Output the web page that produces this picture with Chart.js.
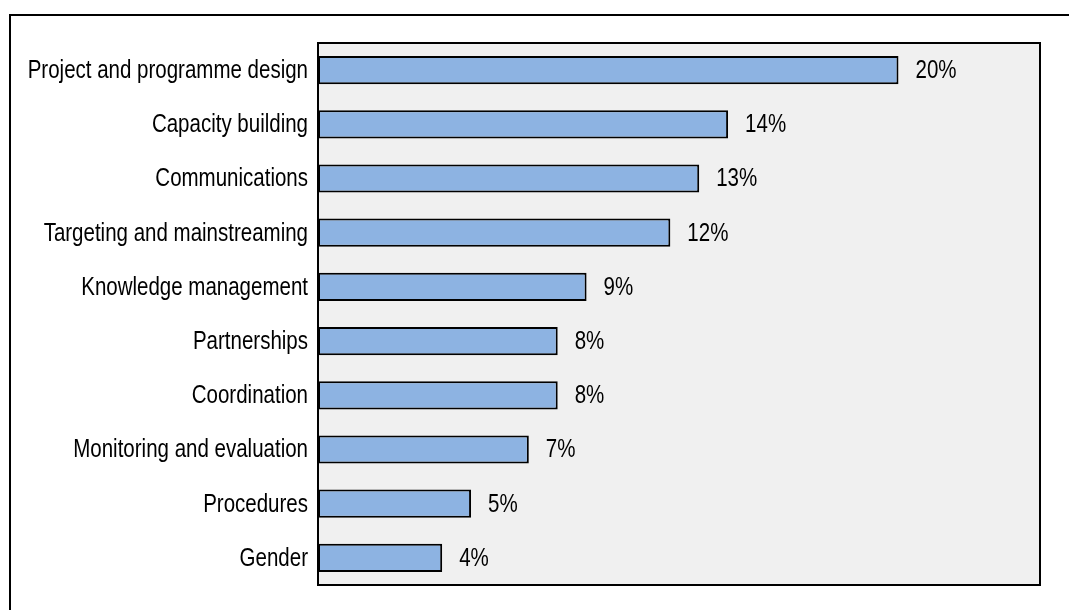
<!DOCTYPE html>
<html lang="en">
<head>
<meta charset="UTF-8">
<title>Share by area</title>
<script src="https://cdn.jsdelivr.net/npm/chart.js"></script>
<style>
  body { margin: 0; background: #fff; }
</style>
</head>
<body>
<canvas id="myChart" width="1069" height="610"></canvas>
<script>
// data
const categories = [
  'Project and programme design',
  'Capacity building',
  'Communications',
  'Targeting and mainstreaming',
  'Knowledge management',
  'Partnerships',
  'Coordination',
  'Monitoring and evaluation',
  'Procedures',
  'Gender'
];
const shares = [20.1, 14.2, 13.2, 12.2, 9.3, 8.3, 8.3, 7.3, 5.3, 4.3];
const shareLabels = ['20%', '14%', '13%', '12%', '9%', '8%', '8%', '7%', '5%', '4%'];
const axisMax = 25;

// no narrow font installed, so squeeze Liberation Sans by hand
const FONT = '25px "Liberation Sans", Arial, sans-serif';
const SQUEEZE = 0.82;

function narrowText(ctx, text, x, y, align) {
  ctx.save();
  ctx.translate(x, y);
  ctx.scale(SQUEEZE, 1);
  ctx.font = FONT;
  ctx.fillStyle = '#000';
  ctx.textAlign = align;
  ctx.textBaseline = 'middle';
  ctx.fillText(text, 0, 0);
  ctx.restore();
}

// grey plot area, its frame and the outer frame
const frames = {
  id: 'frames',
  beforeDatasetsDraw(chart) {
    const { ctx, chartArea: a } = chart;
    ctx.save();
    ctx.fillStyle = '#f0f0f0';
    ctx.fillRect(a.left, a.top, a.right - a.left, a.bottom - a.top);
    ctx.restore();
  },
  afterDraw(chart) {
    const { ctx, chartArea: a } = chart;
    ctx.save();
    ctx.strokeStyle = '#000';
    ctx.lineWidth = 2;
    ctx.strokeRect(a.left, a.top, a.right - a.left, a.bottom - a.top);
    ctx.strokeRect(10, 15, chart.width + 20, chart.height + 20);
    ctx.restore();
  }
};

// category names on the left and value labels right of each bar
const textLabels = {
  id: 'textLabels',
  afterDatasetsDraw(chart) {
    const { ctx } = chart;
    const yScale = chart.scales.y;
    categories.forEach((name, i) => {
      narrowText(ctx, name, yScale.right - 10, yScale.getPixelForTick(i) + 1, 'right');
    });
    chart.getDatasetMeta(0).data.forEach((bar, i) => {
      narrowText(ctx, shareLabels[i], bar.x + 17, bar.y + 1, 'left');
    });
  }
};

const ctx = document.getElementById('myChart').getContext('2d');
new Chart(ctx, {
  type: 'bar',
  data: {
    labels: categories,
    datasets: [{
      data: shares,
      backgroundColor: '#8db3e2',
      borderColor: '#000',
      borderWidth: 2,
      borderSkipped: false,
      barPercentage: 0.52,
      categoryPercentage: 1
    }]
  },
  options: {
    indexAxis: 'y',
    responsive: false,
    animation: false,
    layout: { padding: { left: 0, top: 43, right: 29, bottom: 25 } },
    scales: {
      x: { display: false, min: 0, max: axisMax },
      y: {
        grid: { display: false },
        border: { display: false },
        ticks: { display: false },
        afterFit(scale) { scale.width = 318; }
      }
    },
    plugins: {
      legend: { display: false },
      tooltip: { enabled: false }
    }
  },
  plugins: [frames, textLabels]
});
</script>
</body>
</html>
